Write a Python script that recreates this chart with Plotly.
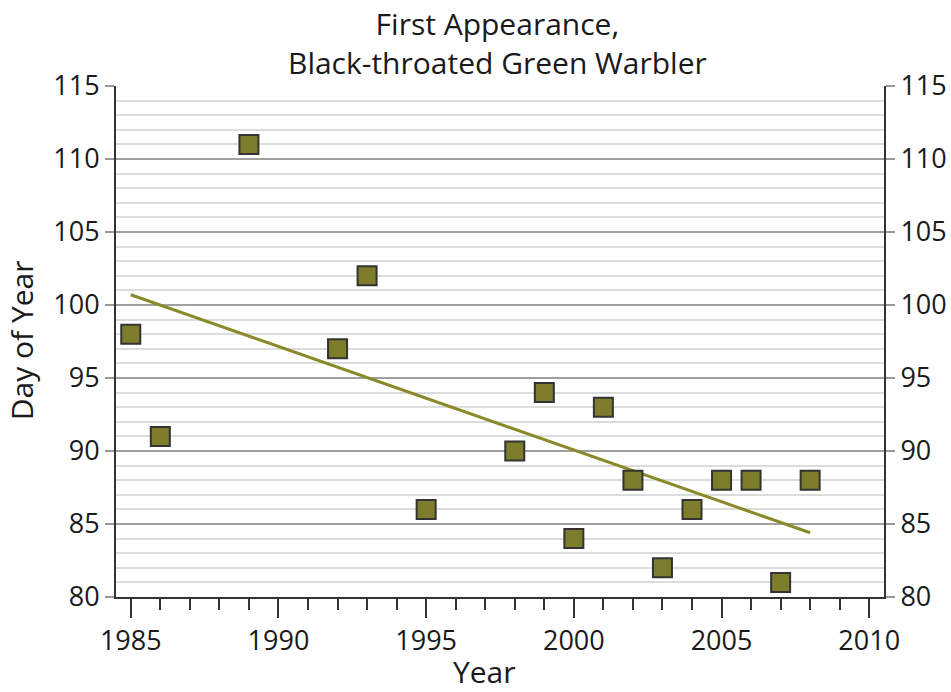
import plotly.graph_objects as go

years = [1985, 1986, 1989, 1992, 1993, 1995, 1998, 1999, 2000, 2001, 2002, 2003, 2004, 2005, 2006, 2007, 2008]
days = [98, 91, 111, 97, 102, 86, 90, 94, 84, 93, 88, 82, 86, 88, 88, 81, 88]
trend_x = [1985, 2008]
trend_y = [100.7, 84.4]

title_lines = ["First Appearance,", "Black-throated Green Warbler"]
x_title = "Year"
y_title = "Day of Year"

FONT = "Open Sans"
TXT = "#1a1a1a"
fig = go.Figure()
fig.add_trace(go.Scatter(x=trend_x, y=trend_y, mode="lines",
                         line=dict(color="#8a8a2c", width=3), showlegend=False, hoverinfo="skip"))
fig.add_trace(go.Scatter(x=years, y=days, mode="markers",
                         marker=dict(symbol="square", size=19, color="#7d7d2b",
                                     line=dict(color="#333333", width=2)),
                         showlegend=False))
fig.add_trace(go.Scatter(x=[years[0]], y=[days[0]], yaxis="y2", mode="markers",
                         marker=dict(opacity=0), showlegend=False, hoverinfo="skip"))

fig.update_layout(
    width=951, height=692,
    margin=dict(l=116, r=67, t=86, b=95),
    plot_bgcolor="white", paper_bgcolor="white",
    font=dict(family=FONT, size=27, color=TXT),
    xaxis=dict(range=[1984.5, 2010.5], tickmode="linear", tick0=1985, dtick=5,
               ticks="outside", ticklen=19, tickwidth=2, tickcolor="#333",
               showgrid=False, zeroline=False, showline=True, linecolor="#333", linewidth=2,
               minor=dict(dtick=1, tick0=1985, ticks="outside", ticklen=11, tickwidth=2, tickcolor="#333"),
               automargin=False, tickfont=dict(size=27, color=TXT)),
    yaxis=dict(range=[80, 115], tickmode="linear", tick0=80, dtick=5,
               ticks="outside", ticklen=9, tickwidth=2, tickcolor="#999",
               showgrid=True, gridcolor="#a0a0a0", gridwidth=2,
               minor=dict(dtick=1, showgrid=True, gridcolor="#dcdcdc", gridwidth=2),
               zeroline=False, showline=True, linecolor="#333", linewidth=2,
               automargin=False, tickfont=dict(size=27, color=TXT)),
    yaxis2=dict(range=[80, 115], overlaying="y", side="right", tickmode="linear", tick0=80, dtick=5,
                ticks="outside", ticklen=9, tickwidth=2, tickcolor="#999",
                showgrid=False, zeroline=False, showline=True, linecolor="#333", linewidth=2,
                automargin=False, tickfont=dict(size=27, color=TXT)),
    annotations=[
        dict(text="<br>".join(title_lines), x=0.497, y=1.166, xref="paper", yref="paper",
             xanchor="center", yanchor="top", showarrow=False, align="center",
             font=dict(size=30, color=TXT)),
        dict(text=x_title, x=0.48, y=-0.19, xref="paper", yref="paper",
             xanchor="center", yanchor="bottom", showarrow=False, font=dict(size=30, color=TXT)),
        dict(text=y_title, x=-0.122, y=0.503, xref="paper", yref="paper", textangle=-90,
             xanchor="center", yanchor="middle", showarrow=False, font=dict(size=30, color=TXT)),
    ],
)
fig.write_html("out.html", config={"displayModeBar": False},
               post_script="document.body.style.margin='0';document.body.style.overflow='hidden';")
